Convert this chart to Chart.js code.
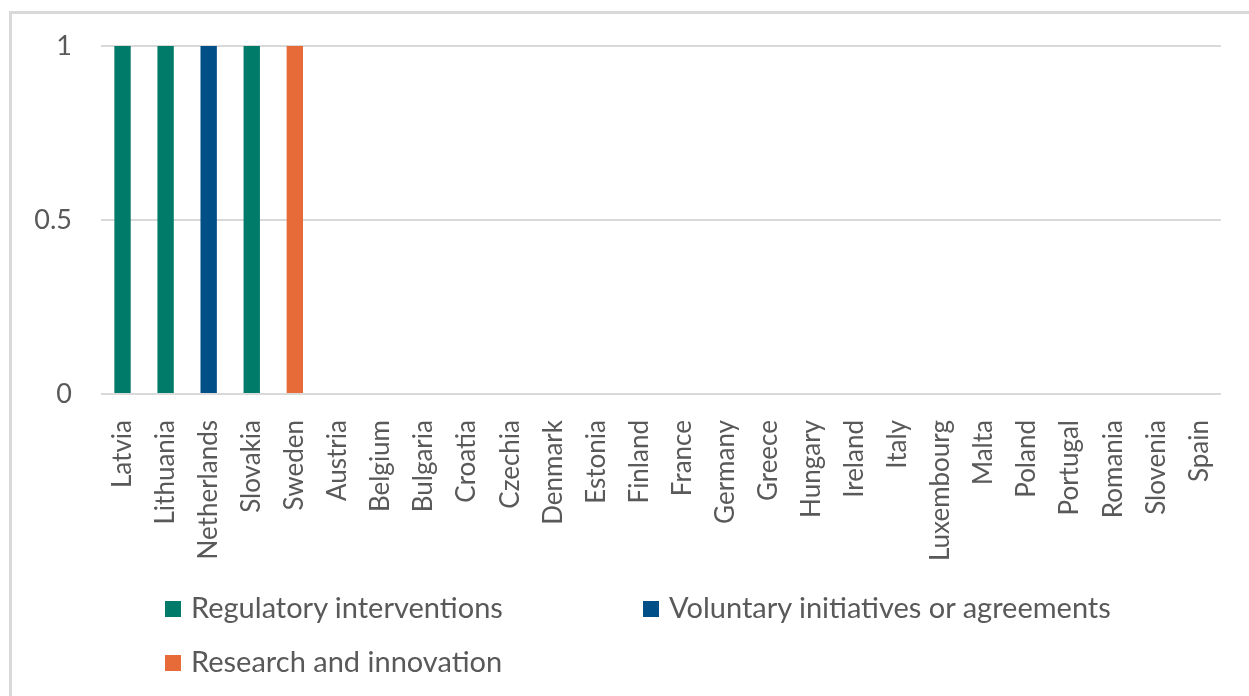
<!DOCTYPE html>
<html>
<head>
<meta charset="utf-8">
<script src="https://cdn.jsdelivr.net/npm/chart.js@4.4.0/dist/chart.umd.min.js"></script>
<style>
  body { margin: 0; background: #fff; overflow: hidden; }
  #wrap { position: relative; width: 1249px; height: 696px; }
  #frame { position: absolute; left: 9px; top: 11px; width: 1300px; height: 720px;
           border: 3px solid #d9d9d9; box-sizing: border-box; }
  canvas { position: absolute; left: 0; top: 0; }
  .leg { position: absolute; font-family: Lato, sans-serif; font-size: 29px; color: #595959;
         white-space: nowrap; line-height: 30px; }
  .leg span { display: inline-block; width: 16px; height: 16px; margin-right: 10px; vertical-align: 1px; }
</style>
</head>
<body>
<div id="wrap">
  <div id="frame"></div>
  <canvas id="myChart" width="1249" height="696"></canvas>
  <div id="legend"></div>
</div>
<script>
// Pays (ordre de l'axe X)
const countries = ['Latvia', 'Lithuania', 'Netherlands', 'Slovakia', 'Sweden', 'Austria', 'Belgium',
  'Bulgaria', 'Croatia', 'Czechia', 'Denmark', 'Estonia', 'Finland', 'France', 'Germany', 'Greece',
  'Hungary', 'Ireland', 'Italy', 'Luxembourg', 'Malta', 'Poland', 'Portugal', 'Romania', 'Slovenia', 'Spain'];

// Nombre de mesures par type
const regulatory = [1, 1, 0, 1, 0, 0, 0, 0, 0, 0, 0, 0, 0, 0, 0, 0, 0, 0, 0, 0, 0, 0, 0, 0, 0, 0];
const voluntary  = [0, 0, 1, 0, 0, 0, 0, 0, 0, 0, 0, 0, 0, 0, 0, 0, 0, 0, 0, 0, 0, 0, 0, 0, 0, 0];
const research   = [0, 0, 0, 0, 1, 0, 0, 0, 0, 0, 0, 0, 0, 0, 0, 0, 0, 0, 0, 0, 0, 0, 0, 0, 0, 0];

const yTicks = [0, 0.5, 1];

const seriesNames = ['Regulatory interventions', 'Voluntary initiatives or agreements', 'Research and innovation'];
const seriesColors = ['#007a69', '#004f87', '#e66b39'];

const font = 'Lato, sans-serif';
const grey = '#595959';

const ctx = document.getElementById('myChart').getContext('2d');
const chart = new Chart(ctx, {
    type: 'bar',
    data: {
        labels: countries,
        datasets: [regulatory, voluntary, research].map((d, i) => ({
            label: seriesNames[i],
            data: d,
            backgroundColor: seriesColors[i],
            borderWidth: 0,
            barPercentage: 0.38,
            categoryPercentage: 1
        }))
    },
    options: {
        responsive: false,
        animation: false,
        layout: { padding: { top: 46, right: 25, bottom: 0, left: 0 } },
        plugins: { legend: { display: false }, tooltip: { enabled: false } },
        scales: {
            x: {
                stacked: true,
                grid: { display: false },
                border: { display: false },
                ticks: { color: grey, font: { family: font, size: 26 }, maxRotation: 90, minRotation: 90, padding: 18, autoSkip: false },
                afterFit: s => { s.height = 302; }
            },
            y: {
                stacked: true,
                min: 0,
                max: 1,
                afterBuildTicks: s => { s.ticks = yTicks.map(v => ({ value: v })); },
                grid: { color: '#d9d9d9', lineWidth: 2, drawTicks: false },
                border: { display: false },
                ticks: { color: grey, font: { family: font, size: 27 }, padding: 29, callback: v => String(v) },
                afterFit: s => { s.width = 101; }
            }
        }
    }
});

// Légende en deux colonnes sous le graphique
const legendPos = [[165, 592], [643, 592], [165, 646]];
const legend = document.getElementById('legend');
chart.data.datasets.forEach((ds, i) => {
    const el = document.createElement('div');
    el.className = 'leg';
    el.style.left = legendPos[i][0] + 'px';
    el.style.top = legendPos[i][1] + 'px';
    el.innerHTML = '<span style="background:' + ds.backgroundColor + '"></span>' + ds.label;
    legend.appendChild(el);
});
</script>
</body>
</html>
